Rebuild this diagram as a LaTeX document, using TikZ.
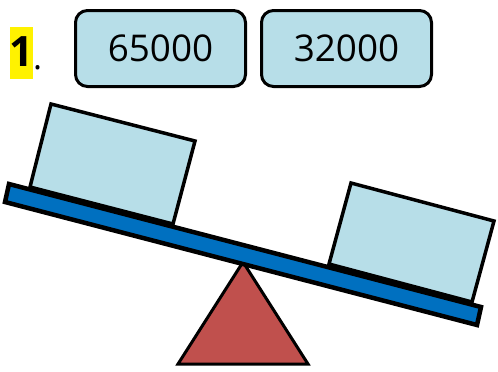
\documentclass[tikz,border=0pt]{standalone}
\usepackage{fontspec}
\setmainfont{Open Sans}
\usepackage{tikz}

\definecolor{cardblue}{HTML}{B7DEE8}
\definecolor{plankblue}{HTML}{0070C0}
\definecolor{pivotred}{HTML}{C0504D}

\tikzset{
    card/.style={draw=black, fill=cardblue, line width=3bp, rounded corners=12bp,
        minimum width=170bp, minimum height=76bp, inner sep=0pt,
        font=\fontsize{37}{40}\selectfont},
    weight/.style={draw=black, fill=cardblue, line width=3.5bp, line join=miter},
    plank/.style={draw=black, fill=plankblue, line width=4.5bp, line join=miter},
    pivot/.style={draw=black, fill=pivotred, line width=3bp, line join=miter}
}

\begin{document}
\begin{tikzpicture}[x=1bp, y=-1bp]
            \useasboundingbox (0,0) rectangle (498,371);

            % question number
            \node[fill=yellow, inner sep=0pt, minimum width=23bp, text height=39bp, text depth=13bp,
                anchor=base, font=\fontsize{42}{46}\selectfont\bfseries] (num) at (21.5,66) {1};
            \node[anchor=base west, inner sep=0pt, font=\fontsize{34}{36}\selectfont] (dot) at (33,69) {.};

            % the two numbers
            \node[card] (left card) at (160.5,48.5) {65000};
            \node[card] (right card) at (346.5,48.5) {32000};

            % the stand
            \path[pivot] (243,262) -- (308,364) -- (178,364) -- cycle;

            % weights on the seesaw
            \path[weight] (51,104) -- (195,141) -- (173,224) -- (30,187) -- cycle;
            \path[weight] (351,183) -- (494,221) -- (472,302) -- (329,264) -- cycle;

            % the plank
            \path[plank] (9,184) -- (481,307) -- (477,325) -- (5,202) -- cycle;

        \end{tikzpicture}
\end{document}
